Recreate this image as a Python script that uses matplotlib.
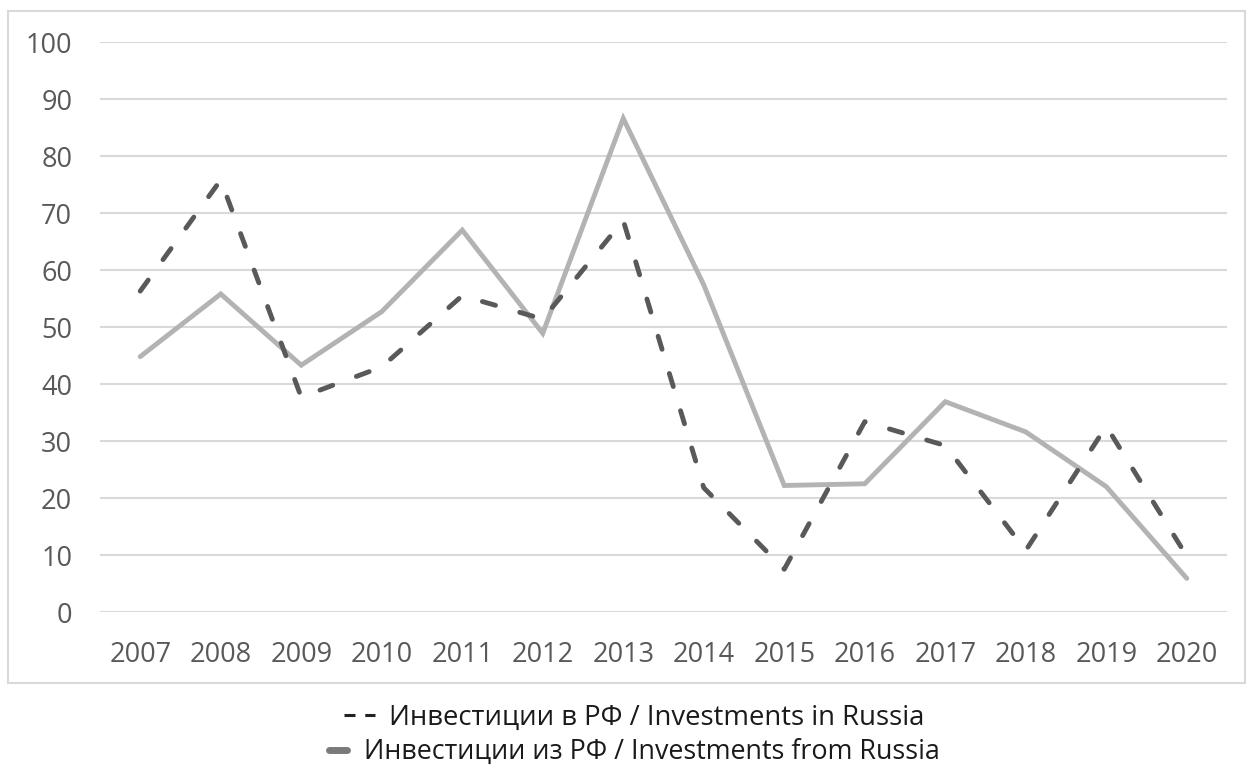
import matplotlib
matplotlib.use('Agg')
import matplotlib.pyplot as plt
from matplotlib.lines import Line2D
from matplotlib.patches import Rectangle

plt.rcParams['font.family'] = ['Open Sans', 'DejaVu Sans']

years = ['2007', '2008', '2009', '2010', '2011', '2012', '2013',
         '2014', '2015', '2016', '2017', '2018', '2019', '2020']
inv_in = [56.3, 75.8, 37.7, 43.0, 55.5, 51.4, 68.7,
          21.8, 7.5, 33.4, 29.2, 10.8, 32.6, 9.8]
inv_from = [44.8, 55.8, 43.3, 52.7, 67.0, 48.9, 86.6,
            57.4, 22.2, 22.5, 36.9, 31.6, 22.0, 5.9]
yticks = [0, 10, 20, 30, 40, 50, 60, 70, 80, 90, 100]
labels = ['Инвестиции в РФ / Investments in Russia',
          'Инвестиции из РФ / Investments from Russia']

fig = plt.figure(figsize=(12.48, 7.71), dpi=100)
ax = fig.add_axes([0.0801, 0.2062, 0.9031, 0.7393])

x = range(len(years))
ax.plot(x, inv_from, color='#b3b3b3', lw=3.5, solid_capstyle='round',
        solid_joinstyle='miter', zorder=3)
ax.plot(x, inv_in, color='#595959', lw=3.5, dashes=(2.8, 5.2),
        dash_capstyle='round', zorder=4)

ax.set_xlim(-0.5, len(years) - 0.5)
ax.set_ylim(0, 100)
ax.set_xticks(list(x))
ax.set_xticklabels(years)
ax.set_yticks(yticks)
ax.grid(axis='y', color='#d9d9d9', lw=1.5)
ax.set_axisbelow(True)
for s in ax.spines.values():
    s.set_visible(False)
ax.tick_params(length=0, labelsize=19.5, labelcolor='#595959')
ax.tick_params(axis='y', pad=20)
ax.tick_params(axis='x', pad=21)

# outer chart frame
fig.patches.append(Rectangle((8 / 1248, 1 - 683 / 771), 1237 / 1248, 672 / 771,
                             transform=fig.transFigure, fill=False,
                             edgecolor='#d9d9d9', lw=1.5))

h1 = Line2D([], [], color='#222222', lw=2.2, dashes=(3.6, 3.2))
h2 = Line2D([], [], color='#7a7a7a', lw=5, solid_capstyle='round')
fig.legend([h1], [labels[0]], loc='center', bbox_to_anchor=(0.508, 1 - 718 / 771),
           frameon=False, fontsize=19.8, handlelength=1.15, handletextpad=0.5,
           borderpad=0, labelcolor='#1a1a1a')
fig.legend([h2], [labels[1]], loc='center', bbox_to_anchor=(0.508, 1 - 752 / 771),
           frameon=False, fontsize=19.4, handlelength=0.7, handletextpad=0.6,
           borderpad=0, labelcolor='#1a1a1a')

fig.savefig('out.png', dpi=100)
